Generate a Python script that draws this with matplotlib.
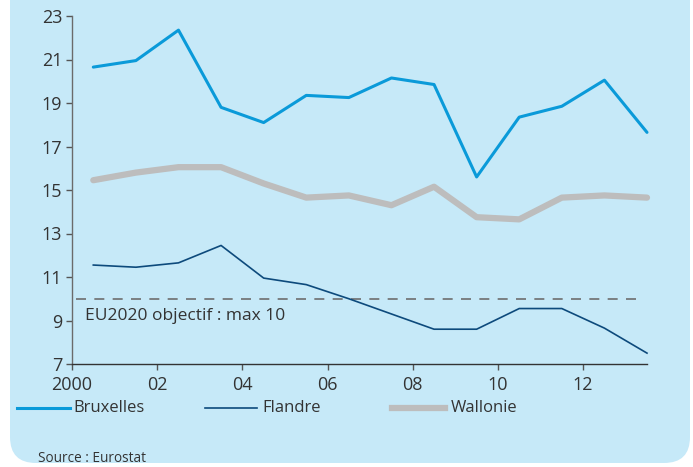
import matplotlib
matplotlib.use("Agg")
import matplotlib.pyplot as plt
from matplotlib.patches import FancyBboxPatch
from matplotlib.lines import Line2D
from matplotlib.transforms import IdentityTransform

years = [2000.5 + i for i in range(14)]
bruxelles = [20.65, 20.95, 22.35, 18.8, 18.1, 19.35, 19.25, 20.15, 19.85, 15.6, 18.35, 18.85, 20.05, 17.65]
flandre = [11.55, 11.45, 11.65, 12.45, 10.95, 10.65, 10.0, 9.3, 8.6, 8.6, 9.55, 9.55, 8.65, 7.5]
wallonie = [15.45, 15.8, 16.05, 16.05, 15.3, 14.65, 14.75, 14.3, 15.15, 13.75, 13.65, 14.65, 14.75, 14.65]
xticks = [2000, 2002, 2004, 2006, 2008, 2010, 2012]
xticklabels = ["2000", "02", "04", "06", "08", "10", "12"]
yticks = [7, 9, 11, 13, 15, 17, 19, 21, 23]
objective = 10
series_names = ["Bruxelles", "Flandre", "Wallonie"]

plt.rcParams['font.family'] = ['Open Sans', 'DejaVu Sans']

W, H = 693, 467
fig = plt.figure(figsize=(W / 100, H / 100), dpi=100)
fig.patch.set_facecolor('white')

bg = '#c6e9f8'
# box in pixel coords (origin bottom-left), bottom at 463px from top
box = FancyBboxPatch((10, H - 463), 680, 600,
                     boxstyle="round,pad=0,rounding_size=26",
                     transform=IdentityTransform(), facecolor=bg, edgecolor='none', zorder=-5)
fig.patches.append(box)

ax = fig.add_axes([72 / W, 1 - 364 / H, (647 - 72) / W, (364 - 16) / H])
ax.set_zorder(2)
ax.set_facecolor('none')

c_brux = '#0a9ad9'
c_fla = '#0d4a7c'
c_wal = '#bdbdbd'

ax.plot(years, wallonie, color=c_wal, lw=4.5, solid_capstyle='round', solid_joinstyle='round',
        zorder=3, clip_on=False)
ax.plot(years, bruxelles, color=c_brux, lw=2.2, solid_capstyle='round', zorder=4, clip_on=False)
ax.plot(years, flandre, color=c_fla, lw=1.2, zorder=4, clip_on=False)
ax.plot([2000.1, 2013.3], [objective, objective], color='#6e6e6e', lw=1.2,
        dashes=(6, 5), zorder=2)
ax.text(2000.3, 9.2, "EU2020 objectif : max 10", fontsize=12.5, color='#333333',
        va='center', ha='left')

ax.set_xlim(2000, 2013.5)
ax.set_ylim(7, 23)
ax.set_xticks(xticks)
ax.set_xticklabels(xticklabels)
ax.set_yticks(yticks)
for s in ['top', 'right']:
    ax.spines[s].set_visible(False)
ax.spines['left'].set_color('#6b6b6b')
ax.spines['bottom'].set_color('#333333')
ax.spines['left'].set_linewidth(1.0)
ax.spines['bottom'].set_linewidth(1.0)
ax.tick_params(axis='both', direction='out', length=4, width=1, color='#555555',
               labelsize=13, labelcolor='#333333')
ax.tick_params(axis='x', pad=5)
ax.tick_params(axis='y', pad=3)

# legend
leg_y = 1 - 408 / H
handles = [(17, 70, c_brux, 2.2), (205, 257, c_fla, 1.2), (392, 445, c_wal, 4.5)]
text_x = [73, 262, 451]
for (x0, x1, c, lw), tx, name in zip(handles, text_x, series_names):
    fig.add_artist(Line2D([x0 / W, x1 / W], [leg_y, leg_y], color=c, lw=lw,
                          transform=fig.transFigure))
    fig.text(tx / W, leg_y, name, fontsize=12, color='#333333', va='center', ha='left')

fig.text(38 / W, 1 - 458 / H, "Source : Eurostat", fontsize=9.8, color='#333333',
         va='center', ha='left')

fig.savefig("out.png", dpi=100, facecolor=fig.get_facecolor())
